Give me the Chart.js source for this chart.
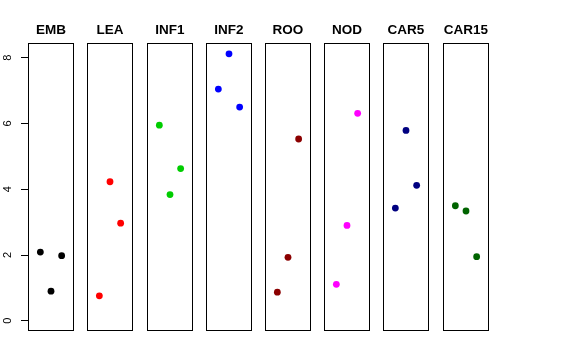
<!DOCTYPE html>
<html>
<head>
<meta charset="utf-8">
<script src="https://cdn.jsdelivr.net/npm/chart.js@4.4.1/dist/chart.umd.min.js"></script>
<style>
  body { margin: 0; width: 576px; height: 360px; background: #fff; position: relative; overflow: hidden; }
  .panel { position: absolute; top: 0; }
</style>
</head>
<body>
<script>
// panel names and colours
var panels = ['EMB', 'LEA', 'INF1', 'INF2', 'ROO', 'NOD', 'CAR5', 'CAR15'];
var colors = ['#000000', '#FF0000', '#00CD00', '#0000FF', '#8B0000', '#FF00FF', '#000080', '#006400'];

// x slot of each of the three samples in a panel
var slots = [1, 2, 3];

// values, one array per panel (in slot order)
var embValues = [2.09, 0.90, 1.98];
var leaValues = [0.76, 4.23, 2.97];
var inf1Values = [5.95, 3.84, 4.63];
var inf2Values = [7.05, 8.12, 6.50];
var rooValues = [0.87, 1.93, 5.53];
var nodValues = [1.11, 2.90, 6.31];
var car5Values = [3.43, 5.79, 4.12];
var car15Values = [3.50, 3.34, 1.95];

var yTicks = [0, 2, 4, 6, 8];

var allValues = [embValues, leaValues, inf1Values, inf2Values, rooValues, nodValues, car5Values, car15Values];

// left pixel of each panel box
var panelLeft = [28, 87, 147, 206, 265, 324, 383, 443];
var panelWidth = 46;
var axisWidth = 28;
var font = '"Liberation Sans", Arial, Helvetica, sans-serif';

var boxPlugin = {
    id: 'box',
    afterDraw: function (chart) {
        var a = chart.chartArea;
        var ctx = chart.ctx;
        ctx.save();
        ctx.strokeStyle = '#000';
        ctx.lineWidth = 1;
        ctx.strokeRect(a.left + 0.5, a.top + 0.5, a.right - a.left - 1, a.bottom - a.top - 1);
        ctx.restore();
    }
};

function createPanel(i) {
    var first = (i === 0);
    var div = document.createElement('div');
    div.className = 'panel';
    var w = first ? panelWidth + axisWidth : panelWidth;
    div.style.left = (first ? panelLeft[i] - axisWidth : panelLeft[i]) + 'px';
    var canvas = document.createElement('canvas');
    canvas.width = w;
    canvas.height = 360;
    div.appendChild(canvas);
    document.body.appendChild(div);

    var points = [];
    for (var j = 0; j < slots.length; j++) {
        points.push({ x: slots[j], y: allValues[i][j] });
    }

    var yScale = {
        type: 'linear',
        display: first,
        min: -0.31,
        max: 8.45,
        afterBuildTicks: function (scale) {
            scale.ticks = yTicks.map(function (v) { return { value: v }; });
        },
        border: { display: false },
        grid: {
            drawOnChartArea: false,
            drawTicks: true,
            tickLength: 7,
            color: '#000',
            lineWidth: 1
        },
        ticks: {
            color: '#000',
            font: { family: font, size: 11 },
            minRotation: 90,
            maxRotation: 90,
            crossAlign: 'center',
            padding: 10
        }
    };
    // only the first panel carries the shared y axis
    if (first) {
        yScale.afterFit = function (scale) {
            scale.width = axisWidth;
        };
    }

    new Chart(canvas.getContext('2d'), {
        type: 'scatter',
        data: {
            datasets: [{
                data: points,
                backgroundColor: colors[i],
                borderWidth: 0,
                pointRadius: 3.4,
                pointHoverRadius: 3.4
            }]
        },
        options: {
            responsive: false,
            animation: false,
            events: [],
            layout: { padding: { top: 0, bottom: 29, left: 0, right: 0 }, autoPadding: false },
            plugins: {
                legend: { display: false },
                tooltip: { enabled: false },
                title: {
                    display: true,
                    text: panels[i],
                    color: '#000',
                    fullSize: false,
                    font: { family: font, size: 13.5, weight: 'bold' },
                    padding: { top: 22, bottom: 4.8 }
                }
            },
            scales: {
                x: {
                    type: 'linear',
                    display: false,
                    min: -0.16,
                    max: 4.16
                },
                y: yScale
            }
        },
        plugins: [boxPlugin]
    });
}

for (var i = 0; i < panels.length; i++) {
    createPanel(i);
}
</script>
</body>
</html>
